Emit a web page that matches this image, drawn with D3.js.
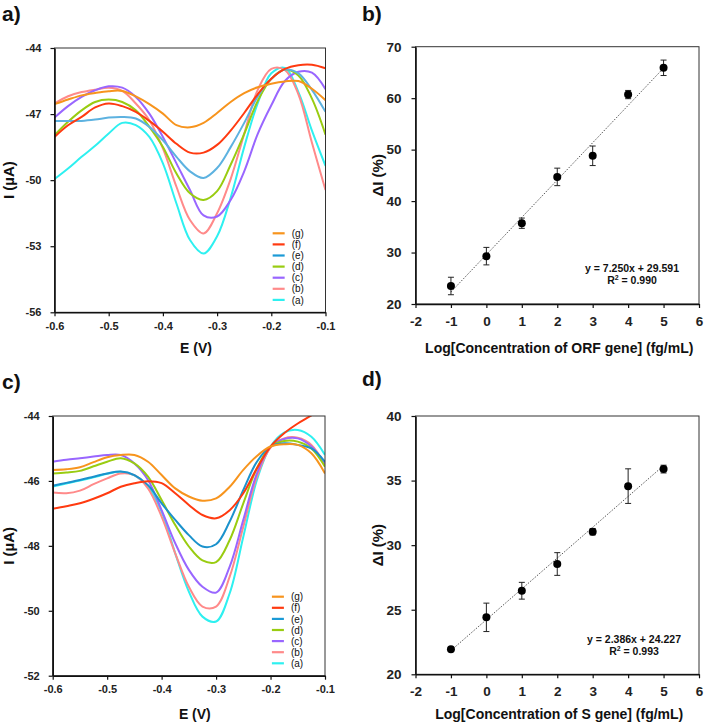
<!DOCTYPE html>
<html><head><meta charset="utf-8">
<script src="https://cdn.jsdelivr.net/npm/d3@7"></script>
<style>body{margin:0;background:#fff}svg{display:block}text{font-family:"Liberation Sans",Arial,sans-serif}</style>
</head><body>
<script>
// ---------- data ----------
const potentials = [-0.6,-0.575,-0.55,-0.525,-0.5,-0.475,-0.45,-0.425,-0.4,-0.375,-0.35,-0.325,-0.3,-0.275,-0.25,-0.225,-0.2,-0.175,-0.15,-0.125,-0.1];
const seriesNames = ["(g)","(f)","(e)","(d)","(c)","(b)","(a)"];
const colorsA = ["#F7941D","#FF3A10","#5DB2E0","#99CC11","#9966FF","#FF8A8A","#2EF0F0"];
const colorsC = ["#F7941D","#FF3A10","#1B92CC","#99CC11","#9966FF","#FF8A8A","#2EF0F0"];
const legendColors = ["#F7941D","#FF3A10","#1B9AD6","#99CC11","#9966FF","#FF8A8A","#2EF0F0"];

const orfCurves = {
  "(g)": [-46.55,-46.34,-46.15,-46.04,-45.96,-45.95,-46.2,-46.55,-46.98,-47.5,-47.6,-47.4,-46.95,-46.45,-46.05,-45.78,-45.62,-45.52,-45.5,-45.85,-46.37],
  "(f)": [-48.04,-47.51,-47.13,-46.7,-46.52,-46.64,-46.9,-47.31,-47.8,-48.35,-48.75,-48.75,-48.4,-47.75,-46.95,-46.1,-45.4,-44.95,-44.78,-44.76,-44.92],
  "(e)": [-47.31,-47.32,-47.31,-47.25,-47.16,-47.13,-47.2,-47.58,-48.19,-48.94,-49.6,-49.9,-49.45,-48.5,-47.4,-46.2,-45.4,-44.98,-45.15,-45.9,-46.9],
  "(d)": [-47.96,-47.35,-46.83,-46.45,-46.34,-46.45,-46.83,-47.58,-48.49,-49.7,-50.6,-50.9,-50.5,-49.3,-47.9,-46.4,-45.4,-44.98,-45.25,-46.3,-47.93],
  "(c)": [-47.16,-46.64,-46.22,-45.92,-45.74,-45.8,-46.22,-46.98,-48.04,-49.24,-50.45,-51.6,-51.65,-50.9,-49.6,-47.9,-46.6,-45.5,-45.08,-45.12,-45.87],
  "(b)": [-46.52,-46.19,-46.0,-45.89,-45.81,-45.95,-46.52,-47.28,-48.56,-50.3,-51.81,-52.42,-51.5,-49.95,-47.9,-45.9,-44.95,-45.0,-46.1,-48.3,-50.45],
  "(a)": [-49.95,-49.47,-48.94,-48.44,-47.88,-47.4,-47.5,-48.04,-49.24,-51.06,-52.72,-53.33,-52.55,-50.8,-48.5,-46.5,-45.15,-44.9,-46.0,-47.75,-49.35]
};
const sCurves = {
  "(g)": [-45.66,-45.64,-45.58,-45.42,-45.27,-45.2,-45.2,-45.41,-45.82,-46.23,-46.48,-46.61,-46.54,-46.18,-45.66,-45.23,-44.94,-44.87,-44.89,-45.15,-45.77],
  "(f)": [-46.86,-46.78,-46.69,-46.55,-46.38,-46.18,-46.07,-46.01,-46.07,-46.38,-46.74,-47.05,-47.15,-46.9,-46.38,-45.61,-44.94,-44.53,-44.23,-43.98,-43.7],
  "(e)": [-46.15,-46.06,-45.97,-45.87,-45.77,-45.71,-45.82,-46.13,-46.69,-47.2,-47.67,-48.02,-47.95,-47.25,-46.28,-45.41,-44.94,-44.84,-44.89,-45.0,-45.41],
  "(d)": [-45.77,-45.74,-45.69,-45.55,-45.41,-45.3,-45.46,-45.87,-46.59,-47.36,-48.02,-48.45,-48.5,-47.82,-46.69,-45.61,-44.94,-44.77,-44.79,-45.0,-45.56],
  "(c)": [-45.41,-45.35,-45.3,-45.25,-45.2,-45.2,-45.46,-45.97,-46.9,-47.92,-48.74,-49.26,-49.44,-48.64,-47.2,-45.77,-44.94,-44.71,-44.69,-44.94,-45.46],
  "(b)": [-46.36,-46.38,-46.3,-46.1,-45.92,-45.77,-45.82,-46.23,-47.1,-48.23,-49.26,-49.87,-49.87,-48.95,-47.41,-45.87,-44.97,-44.69,-44.67,-44.89,-45.51],
  "(a)": [-46.17,-46.08,-45.99,-45.89,-45.78,-45.72,-45.83,-46.18,-46.95,-48.23,-49.41,-50.18,-50.33,-49.46,-47.72,-45.97,-44.94,-44.51,-44.43,-44.64,-45.2]
};
const logConc = [-1,0,1,2,3,4,5];
const orfDeltaI = [23.5,29.3,35.7,44.7,48.8,60.7,65.9];
const orfErr = [1.7,1.7,1.0,1.7,1.9,0.8,1.5];
const sDeltaI = [21.94,24.41,26.47,28.54,31.04,34.57,35.89];
const sErr = [0.1,1.1,0.65,0.88,0.25,1.34,0.3];
const orfFit = {slope:7.250, intercept:29.591, eq:"y = 7.250x + 29.591", r2:"0.990"};
const sFit = {slope:2.386, intercept:24.227, eq:"y = 2.386x + 24.227", r2:"0.993"};
const cvXTicks = [-0.6,-0.5,-0.4,-0.3,-0.2,-0.1];
const orfCvYTicks = [-56,-53,-50,-47,-44];
const sCvYTicks = [-52,-50,-48,-46,-44];
const calXTicks = [-2,-1,0,1,2,3,4,5,6];
const orfCalYTicks = [20,30,40,50,60,70];
const sCalYTicks = [20,25,30,35,40];

// ---------- drawing ----------
const FONT = "'Liberation Sans',Arial,sans-serif";
const hy = f => d => f(d).replace("\u2212","-");
const svg = d3.select("body").append("svg").attr("width",705).attr("height",724);

function frame(g, box){
  g.append("rect").attr("x",box.l).attr("y",box.t).attr("width",box.r-box.l).attr("height",box.b-box.t)
    .attr("fill","none").attr("stroke","#333").attr("stroke-width",1);
}
function axes(g, box, x, y, xt, yt, xfmt, yfmt, fs, xpad, ypad){
  const ax = g.append("g").attr("transform",`translate(0,${box.b})`)
    .call(d3.axisBottom(x).tickValues(xt).tickFormat(xfmt).tickSize(4).tickPadding(xpad).tickSizeOuter(0));
  const ay = g.append("g").attr("transform",`translate(${box.l},0)`)
    .call(d3.axisLeft(y).tickValues(yt).tickFormat(yfmt).tickSize(4).tickPadding(ypad).tickSizeOuter(0));
  [ax,ay].forEach(a=>{
    a.select(".domain").attr("stroke","#111").attr("stroke-width",1.6);
    a.selectAll(".tick line").attr("stroke","#111").attr("stroke-width",1.2);
    a.selectAll("text").attr("font-size",fs).attr("font-weight","bold").attr("fill","#222")
      .style("font-family",FONT);
  });
}

function cvPanel(id, box, data, colors, yDom, yTicks, label, labelPos, xTitleY){
  const g = svg.append("g");
  const x = d3.scaleLinear().domain([-0.6,-0.1]).range([box.l,box.r]);
  const y = d3.scaleLinear().domain(yDom).range([box.b,box.t]);
  g.append("clipPath").attr("id",id).append("rect").attr("x",box.l).attr("y",box.t).attr("width",box.r-box.l).attr("height",box.b-box.t);
  const line = d3.line().x((d,i)=>x(potentials[i])).y(d=>y(d)).curve(d3.curveCatmullRom.alpha(0.5));
  const order = ["(a)","(b)","(c)","(d)","(e)","(f)","(g)"];
  order.forEach(n=>{
    const k = seriesNames.indexOf(n);
    g.append("path").attr("d",line(data[n])).attr("fill","none").attr("stroke",colors[k])
      .attr("stroke-width",2).attr("clip-path",`url(#${id})`);
  });
  frame(g,box);
  axes(g,box,x,y,cvXTicks,yTicks,hy(d3.format(".1f")),hy(d3.format("d")),11,6,9);
  // legend
  const lx = box.l + (box.r-box.l)*0.805, ly = box.b - 79;
  seriesNames.forEach((n,i)=>{
    const yy = ly + i*11.1;
    g.append("line").attr("x1",lx).attr("x2",lx+12).attr("y1",yy).attr("y2",yy).attr("stroke",legendColors[i]).attr("stroke-width",2.2);
    g.append("text").attr("x",lx+19).attr("y",yy+3.6).attr("font-size",10).attr("fill","#111").text(n);
  });
  g.append("text").attr("transform",`translate(14,${(box.t+box.b)/2}) rotate(-90)`).attr("text-anchor","middle")
    .attr("font-size",15).attr("font-weight","bold").attr("fill","#111").text("I (µA)");
  g.append("text").attr("x",(box.l+box.r)/2+6).attr("y",xTitleY).attr("text-anchor","middle")
    .attr("font-size",14).attr("font-weight","bold").attr("fill","#111").text("E (V)");
  svg.append("text").attr("x",labelPos[0]).attr("y",labelPos[1]).attr("font-size",21).attr("font-weight","bold").attr("fill","#111").text(label);
}

function calPanel(box, vals, errs, fit, yDom, yTicks, label, labelPos, xTitle, xTitleY, eqPos){
  const g = svg.append("g");
  const x = d3.scaleLinear().domain([-2,6]).range([box.l,box.r]);
  const y = d3.scaleLinear().domain(yDom).range([box.b,box.t]);
  frame(g,box);
  // trendline
  const xs = [logConc[0], logConc[logConc.length-1]];
  g.append("line").attr("x1",x(xs[0])).attr("y1",y(fit.slope*xs[0]+fit.intercept))
    .attr("x2",x(xs[1])).attr("y2",y(fit.slope*xs[1]+fit.intercept))
    .attr("stroke","#444").attr("stroke-width",0.9).attr("stroke-dasharray","1.5,1.5");
  // error bars
  logConc.forEach((c,i)=>{
    const cx = x(c), y1 = y(vals[i]+errs[i]), y2 = y(vals[i]-errs[i]);
    g.append("line").attr("x1",cx).attr("x2",cx).attr("y1",y1).attr("y2",y2).attr("stroke","#222").attr("stroke-width",1);
    [y1,y2].forEach(yy=>g.append("line").attr("x1",cx-3).attr("x2",cx+3).attr("y1",yy).attr("y2",yy).attr("stroke","#222").attr("stroke-width",1));
  });
  g.selectAll("circle.pt").data(logConc).enter().append("circle")
    .attr("cx",d=>x(d)).attr("cy",(d,i)=>y(vals[i])).attr("r",4).attr("fill","#000");
  axes(g,box,x,y,calXTicks,yTicks,hy(d3.format("d")),hy(d3.format("d")),13.5,8,10);
  g.append("text").attr("transform",`translate(383,${(box.t+box.b)/2}) rotate(-90)`).attr("text-anchor","middle")
    .attr("font-size",15).attr("font-weight","bold").attr("fill","#111").text("ΔI (%)");
  g.append("text").attr("x",(box.l+box.r)/2+2).attr("y",xTitleY).attr("text-anchor","middle")
    .attr("font-size",14).attr("font-weight","bold").attr("fill","#111").text(xTitle);
  g.append("text").attr("x",eqPos[0]).attr("y",eqPos[1]).attr("text-anchor","middle")
    .attr("font-size",10.5).attr("font-weight","bold").attr("fill","#111").text(fit.eq);
  const r = g.append("text").attr("x",eqPos[0]).attr("y",eqPos[1]+12.5).attr("text-anchor","middle")
    .attr("font-size",10.5).attr("font-weight","bold").attr("fill","#111");
  r.append("tspan").text("R");
  r.append("tspan").attr("font-size",7).attr("dy",-4).text("2");
  r.append("tspan").attr("dy",4).text(" = " + fit.r2);
  svg.append("text").attr("x",labelPos[0]).attr("y",labelPos[1]).attr("font-size",21).attr("font-weight","bold").attr("fill","#111").text(label);
}

cvPanel("clipA",{l:54.5,r:325.5,t:48,b:312.3},orfCurves,colorsA,[-56,-44],orfCvYTicks,"a)",[2,21],353);
cvPanel("clipC",{l:52.7,r:325,t:416,b:675.7},sCurves,colorsC,[-52,-44],sCvYTicks,"c)",[2,389],719);
calPanel({l:415.5,r:699,t:46.7,b:304},orfDeltaI,orfErr,orfFit,[20,70],orfCalYTicks,"b)",[362,21],
  "Log[Concentration of ORF gene] (fg/mL)",353,[632,271.5]);
calPanel({l:415.5,r:699,t:416,b:674.3},sDeltaI,sErr,sFit,[20,40],sCalYTicks,"d)",[362,386],
  "Log[Concentration of S gene] (fg/mL)",719,[634,642.5]);
</script>
</body></html>
